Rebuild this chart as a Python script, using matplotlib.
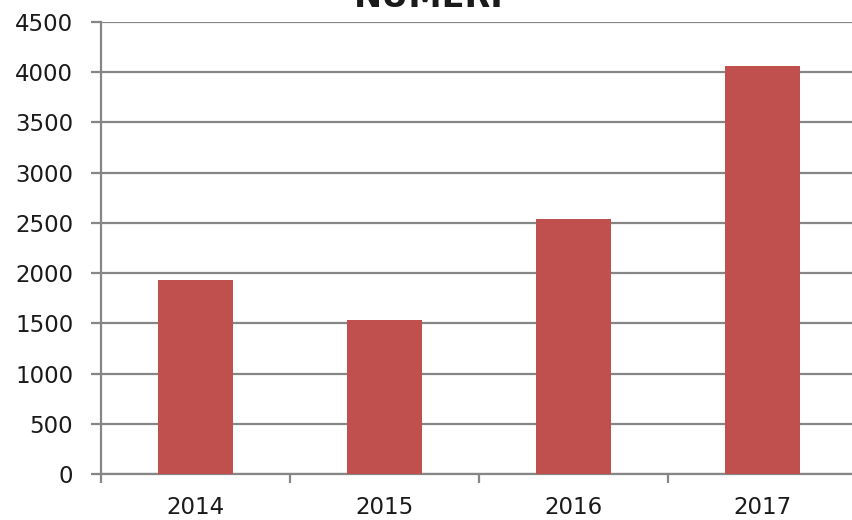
import matplotlib
matplotlib.use("Agg")
import matplotlib.pyplot as plt

# values
years = ["2014", "2015", "2016", "2017"]
numeri = [1936, 1536, 2538, 4062]
y_ticks = [0, 500, 1000, 1500, 2000, 2500, 3000, 3500, 4000, 4500]

bar_color = "#C0504D"
grey = "#868686"

fig = plt.figure(figsize=(8.52, 5.2), dpi=100)
# axes placed to match the reference (right edge runs off the picture)
ax = fig.add_axes([101 / 852, 46 / 520, 751 / 852, 452 / 520])

x = range(len(years))
ax.bar(x, numeri, width=0.4, color=bar_color, zorder=3)

ax.set_xlim(-0.5, -0.5 + 751 / 189)
ax.set_ylim(0, 4500)
ax.set_yticks(y_ticks)
ax.set_yticklabels([str(v) for v in y_ticks])
ax.set_xticks(list(x))
ax.set_xticklabels(years)
ax.set_xticks([-0.5, 0.5, 1.5, 2.5], minor=True)

ax.grid(axis="y", color=grey, linewidth=1.6, zorder=0)
for side in ["top", "right"]:
    ax.spines[side].set_visible(False)
for side in ["left", "bottom"]:
    ax.spines[side].set_color(grey)
    ax.spines[side].set_linewidth(1.6)

ax.tick_params(axis="y", direction="out", length=7, width=1.6, color=grey,
               labelsize=16.5, labelcolor="#1a1a1a", pad=13)
ax.tick_params(axis="x", which="major", length=0, labelsize=16.5,
               labelcolor="#1a1a1a", pad=16)
ax.tick_params(axis="x", which="minor", direction="out", length=6.5,
               width=1.6, color=grey)

# title mostly cut off at the top edge, like the reference
fig.text(429 / 852, 1 - 7 / 520, "NUMERI", ha="center", va="baseline",
         fontsize=24, fontweight="bold", color="#1a1a1a")

fig.savefig("out.png", dpi=100)
